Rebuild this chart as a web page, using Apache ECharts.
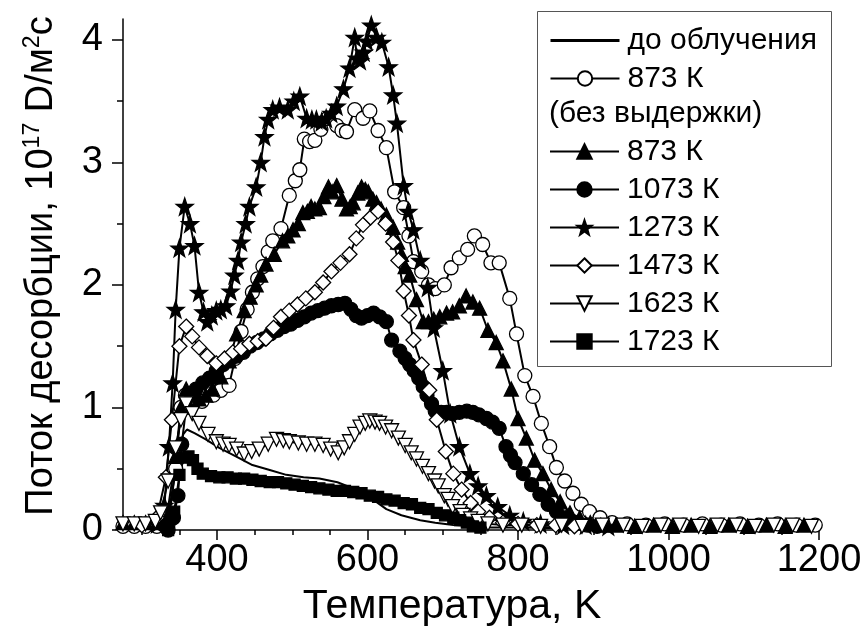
<!DOCTYPE html>
<html>
<head>
<meta charset="utf-8">
<script src="https://cdn.jsdelivr.net/npm/echarts@6/dist/echarts.min.js"></script>
<style>
  html, body { margin: 0; padding: 0; background: #fff; }
  #chart { width: 866px; height: 630px; }
</style>
</head>
<body>
<div id="chart"></div>
<script>
// ось X, K
const xMajorTicks = [400, 600, 800, 1000, 1200]
const xMinorTicks = [300, 350, 450, 500, 550, 650, 700, 750, 850, 900, 950, 1050, 1100, 1150]
// ось Y, 10^17 D/м²c
const yMajorTicks = [0, 1, 2, 3, 4]
const yMinorTicks = [0.5, 1.5, 2.5, 3.5]

// до облучения
const beforeIrr = [
  [275, 0.05], [300, 0.05], [320, 0.05], [335, 0.1], [345, 0.5], [355, 0.78], [360, 0.82], [370, 0.79],
  [385, 0.74], [403, 0.67], [425, 0.6], [447, 0.53], [470, 0.49], [492, 0.45], [515, 0.43], [536, 0.42],
  [560, 0.39], [581, 0.34], [595, 0.3], [607, 0.25], [625, 0.17], [645, 0.12], [670, 0.08], [690, 0.06],
  [714, 0.04], [740, 0.03], [760, 0.02], [800, 0.02], [900, 0.01], [1000, 0.01], [1100, 0.01], [1200, 0.01]
]

// 873 К (без выдержки)
const open873 = [
  [275, 0.03], [290, 0.03], [305, 0.03], [320, 0.03], [335, 0.05], [345, 0.5], [352, 1.0], [358, 1.1],
  [368, 1.08], [380, 1.05], [395, 1.1], [405, 1.14], [416, 1.18], [424, 1.4], [432, 1.62], [440, 1.8],
  [447, 1.94], [454, 2.05], [461, 2.15], [468, 2.27], [474, 2.36], [485, 2.46], [496, 2.73], [504, 2.85],
  [510, 2.94], [516, 3.19], [523, 3.17], [530, 3.18], [538, 3.27], [547, 3.36], [559, 3.3], [566, 3.26],
  [572, 3.25], [583, 3.43], [594, 3.36], [603, 3.42], [614, 3.26], [625, 3.12], [636, 2.76], [648, 2.63],
  [655, 2.4], [661, 2.19], [672, 2.11], [681, 2.0], [690, 1.97], [702, 2.0], [711, 2.14], [722, 2.22],
  [733, 2.29], [742, 2.4], [753, 2.33], [764, 2.18], [775, 2.18], [789, 1.89], [798, 1.6], [809, 1.26],
  [820, 1.09], [831, 0.87], [842, 0.68], [851, 0.51], [862, 0.4], [873, 0.3], [884, 0.21], [895, 0.15],
  [909, 0.1], [925, 0.06], [945, 0.05], [970, 0.04], [995, 0.05], [1020, 0.04], [1045, 0.05], [1070, 0.04],
  [1095, 0.05], [1120, 0.04], [1145, 0.05], [1170, 0.04], [1195, 0.04]
]

// 873 К
const fill873 = [
  [275, 0.06], [290, 0.06], [305, 0.06], [320, 0.06], [333, 0.1], [345, 0.6], [352, 1.0], [359, 1.15],
  [368, 1.1], [376, 1.07], [385, 1.1], [394, 1.15], [405, 1.25], [416, 1.38], [426, 1.6], [436, 1.79],
  [444, 1.9], [452, 2.0], [458, 2.08], [465, 2.17], [476, 2.25], [487, 2.36], [494, 2.4], [501, 2.45],
  [508, 2.5], [514, 2.59], [520, 2.6], [525, 2.64], [530, 2.62], [536, 2.63], [542, 2.72], [548, 2.8],
  [553, 2.76], [559, 2.81], [566, 2.7], [572, 2.62], [577, 2.64], [581, 2.67], [587, 2.75], [592, 2.8],
  [597, 2.78], [601, 2.76], [607, 2.7], [612, 2.67], [618, 2.62], [625, 2.57], [634, 2.47], [640, 2.35],
  [645, 2.25], [650, 2.15], [656, 2.08], [665, 1.88], [674, 1.7], [681, 1.7], [688, 1.72], [696, 1.74],
  [705, 1.77], [713, 1.78], [722, 1.83], [731, 1.91], [740, 1.86], [749, 1.81], [760, 1.63], [771, 1.53],
  [780, 1.38], [791, 1.15], [800, 0.91], [811, 0.75], [822, 0.57], [833, 0.46], [844, 0.33], [856, 0.23],
  [869, 0.14], [882, 0.1], [896, 0.06], [910, 0.04], [930, 0.04], [955, 0.03], [980, 0.04], [1005, 0.03],
  [1030, 0.04], [1055, 0.03], [1080, 0.04], [1105, 0.03], [1130, 0.04], [1155, 0.03], [1180, 0.04]
]

// 1073 К
const fill1073 = [
  [335, 0.0], [342, 0.1], [348, 0.28], [353, 0.7], [359, 1.0], [366, 1.1], [372, 1.15], [381, 1.2],
  [390, 1.24], [399, 1.3], [408, 1.35], [417, 1.39], [426, 1.42], [435, 1.45], [444, 1.5], [453, 1.53],
  [462, 1.56], [471, 1.6], [480, 1.63], [489, 1.66], [498, 1.68], [507, 1.71], [516, 1.74], [525, 1.77],
  [534, 1.79], [543, 1.81], [552, 1.83], [561, 1.84], [570, 1.85], [578, 1.8], [585, 1.75], [592, 1.73],
  [600, 1.75], [608, 1.77], [616, 1.74], [625, 1.7], [632, 1.55], [643, 1.46], [650, 1.4], [656, 1.35],
  [662, 1.3], [668, 1.24], [674, 1.17], [679, 1.1], [685, 1.03], [690, 0.97], [698, 0.96], [705, 0.96],
  [713, 0.95], [722, 0.96], [732, 0.97], [740, 0.96], [748, 0.94], [758, 0.91], [766, 0.88], [775, 0.83],
  [784, 0.68], [790, 0.61], [796, 0.55], [807, 0.46], [818, 0.37], [829, 0.29], [840, 0.21], [851, 0.15],
  [864, 0.1], [878, 0.055], [892, 0.04], [905, 0.03]
]

// 1273 К
const star1273 = [
  [320, 0.05], [330, 0.2], [336, 0.68], [341, 1.2], [345, 1.8], [350, 2.3], [357, 2.64], [364, 2.5],
  [370, 2.32], [376, 1.94], [382, 1.78], [387, 1.7], [393, 1.75], [399, 1.79], [405, 1.8], [412, 1.83],
  [418, 1.95], [423, 2.08], [428, 2.2], [432, 2.35], [438, 2.5], [443, 2.64], [452, 2.8], [458, 3.0],
  [463, 3.21], [468, 3.35], [474, 3.43], [483, 3.45], [494, 3.43], [502, 3.5], [510, 3.54], [519, 3.36],
  [526, 3.35], [532, 3.35], [539, 3.33], [545, 3.36], [552, 3.4], [559, 3.46], [568, 3.6], [576, 3.77],
  [583, 4.02], [586, 3.85], [590, 3.83], [595, 3.9], [599, 3.99], [605, 4.12], [612, 4.02], [619, 3.98],
  [628, 3.78], [634, 3.55], [639, 3.32], [648, 2.81], [654, 2.6], [661, 2.45], [670, 2.2], [680, 1.98],
  [688, 1.65], [700, 1.3], [710, 0.95], [722, 0.68], [736, 0.46], [747, 0.36], [758, 0.28], [773, 0.19],
  [789, 0.12], [807, 0.07], [830, 0.05], [860, 0.04], [890, 0.04], [920, 0.03]
]

// 1473 К
const diamond1473 = [
  [300, 0.04], [320, 0.1], [332, 0.43], [340, 0.9], [350, 1.5], [359, 1.66], [367, 1.58], [376, 1.49],
  [387, 1.42], [399, 1.36], [410, 1.4], [421, 1.45], [432, 1.48], [443, 1.52], [454, 1.54], [465, 1.56],
  [475, 1.65], [485, 1.74], [496, 1.79], [507, 1.84], [518, 1.89], [530, 1.94], [541, 2.02], [552, 2.11],
  [564, 2.18], [576, 2.25], [585, 2.38], [594, 2.49], [604, 2.55], [614, 2.6], [624, 2.5], [634, 2.35],
  [641, 2.2], [648, 1.95], [655, 1.75], [661, 1.55], [672, 1.35], [682, 1.14], [692, 0.9], [704, 0.64],
  [714, 0.46], [725, 0.33], [737, 0.22], [747, 0.15], [762, 0.1], [780, 0.06], [800, 0.05], [825, 0.04],
  [850, 0.04], [875, 0.03]
]

// 1623 К
const down1623 = [
  [275, 0.05], [290, 0.05], [305, 0.05], [318, 0.07], [325, 0.14], [335, 0.4], [345, 0.67], [352, 0.9],
  [359, 1.03], [367, 0.95], [376, 0.87], [388, 0.78], [399, 0.72], [408, 0.7], [416, 0.69], [426, 0.66],
  [436, 0.62], [446, 0.64], [456, 0.66], [468, 0.7], [479, 0.74], [488, 0.73], [496, 0.72], [508, 0.71],
  [519, 0.7], [530, 0.7], [541, 0.69], [551, 0.66], [561, 0.63], [569, 0.67], [576, 0.72], [583, 0.78],
  [590, 0.84], [597, 0.87], [603, 0.89], [610, 0.88], [616, 0.87], [624, 0.84], [632, 0.81], [641, 0.75],
  [650, 0.69], [658, 0.63], [665, 0.58], [673, 0.52], [681, 0.46], [689, 0.4], [694, 0.36], [702, 0.28],
  [707, 0.25], [713, 0.19], [723, 0.15], [727, 0.12], [737, 0.09], [747, 0.07], [760, 0.05], [780, 0.04],
  [805, 0.04], [830, 0.03], [858, 0.04], [885, 0.03], [912, 0.04], [940, 0.04], [965, 0.03], [990, 0.04],
  [1015, 0.04], [1040, 0.03], [1065, 0.04], [1090, 0.04], [1115, 0.03], [1140, 0.04], [1165, 0.04], [1190, 0.03]
]

// 1723 К
const square1723 = [
  [335, 0.0], [343, 0.15], [350, 0.45], [356, 0.59], [362, 0.6], [368, 0.57], [374, 0.5], [381, 0.46],
  [392, 0.44], [403, 0.43], [414, 0.43], [425, 0.42], [436, 0.42], [447, 0.41], [458, 0.4], [470, 0.39],
  [481, 0.39], [492, 0.38], [503, 0.37], [514, 0.36], [525, 0.35], [536, 0.34], [548, 0.33], [559, 0.32],
  [570, 0.32], [581, 0.31], [592, 0.3], [603, 0.28], [614, 0.27], [625, 0.25], [636, 0.24], [648, 0.22],
  [659, 0.21], [670, 0.18], [681, 0.17], [692, 0.14], [703, 0.12], [714, 0.1], [723, 0.08], [732, 0.06],
  [740, 0.03], [750, 0.02]
]

const FONT = "'Liberation Sans', Arial, sans-serif"
const STAR = 'path://M0,-10 L2.35,-3.24 L9.51,-3.09 L3.8,1.24 L5.88,8.09 L0,4 L-5.88,8.09 L-3.8,1.24 L-9.51,-3.09 L-2.35,-3.24 Z'

// общий вид линии с маркерами
const makeSeries = (name, data, symbol, size, fill, rotate) => ({
  name,
  type: 'line',
  data,
  symbol,
  symbolSize: size,
  symbolRotate: rotate || 0,
  showAllSymbol: true,
  lineStyle: { color: '#000', width: 2 },
  itemStyle: { color: fill, borderColor: '#000', borderWidth: 1.3 },
  emphasis: { disabled: true }
})

const chart = echarts.init(document.getElementById('chart'))

const legendCommon = {
  left: 549,
  orient: 'vertical',
  padding: 0,
  itemWidth: 69,
  itemHeight: 18,
  itemGap: 8,
  selectedMode: false,
  formatter: (name) => name.replace(' (без выдержки)', ''),
  textStyle: { fontFamily: FONT, fontSize: 30, lineHeight: 29, color: '#000', padding: [0, 0, 0, 3] }
}

const option = {
  animation: false,
  backgroundColor: '#fff',
  grid: { left: 123, right: 47, top: 19, bottom: 100 },
  legend: [
    Object.assign({}, legendCommon, {
      top: 25.5,
      data: [
        { name: 'до облучения', itemStyle: { opacity: 0 }, lineStyle: { width: 3 } },
        '873 К (без выдержки)'
      ]
    }),
    Object.assign({}, legendCommon, { top: 136.5, data: ['873 К', '1073 К', '1273 К', '1473 К', '1623 К', '1723 К'] })
  ],
  xAxis: [
    {
      type: 'value', min: 275, max: 1200, position: 'bottom',
      axisLine: { show: true, lineStyle: { color: '#000', width: 1.5 } },
      axisTick: { show: true, inside: false, length: 10, customValues: xMajorTicks, lineStyle: { color: '#000', width: 1.5 } },
      axisLabel: {
        customValues: xMajorTicks, margin: 12, color: '#000', fontFamily: FONT, fontSize: 38,
        formatter: (v) => String(v)
      },
      splitLine: { show: false }
    },
    {
      type: 'value', min: 275, max: 1200, position: 'bottom',
      axisLine: { show: false },
      axisTick: { show: true, inside: false, length: 5, customValues: xMinorTicks, lineStyle: { color: '#000', width: 1.5 } },
      axisLabel: { show: false },
      splitLine: { show: false }
    }
  ],
  yAxis: [
    {
      type: 'value', min: 0, max: 4.17, position: 'left',
      axisLine: { show: true, lineStyle: { color: '#000', width: 1.5 } },
      axisTick: { show: true, inside: false, length: 11, customValues: yMajorTicks, lineStyle: { color: '#000', width: 1.5 } },
      axisLabel: { customValues: yMajorTicks, margin: 20, color: '#000', fontFamily: FONT, fontSize: 38 },
      splitLine: { show: false }
    },
    {
      type: 'value', min: 0, max: 4.17, position: 'left',
      axisLine: { show: false },
      axisTick: { show: true, inside: false, length: 6, customValues: yMinorTicks, lineStyle: { color: '#000', width: 1.5 } },
      axisLabel: { show: false },
      splitLine: { show: false }
    }
  ],
  graphic: [
    {
      type: 'rect', left: 535, top: 9, z: 100,
      shape: { width: 294, height: 355 },
      style: { fill: 'none', stroke: '#555', lineWidth: 1 }
    },
    {
      type: 'text', x: 549, y: 114, z: 100,
      style: { text: '(без выдержки)', fontFamily: FONT, fontSize: 30, fill: '#000', verticalAlign: 'middle' }
    },
    {
      type: 'text', x: 452, y: 607, z: 100,
      style: { text: 'Температура, K', fontFamily: FONT, fontSize: 41, fill: '#000', align: 'center', verticalAlign: 'middle' }
    },
    {
      type: 'text', x: 41, y: 266, rotation: Math.PI / 2, z: 100,
      style: {
        text: '{a|Поток десорбции, 10}{s|17}{a| D/м}{s|2}{a|c}',
        align: 'center', verticalAlign: 'middle', fill: '#000',
        rich: {
          a: { fontFamily: FONT, fontSize: 38, lineHeight: 40, verticalAlign: 'bottom' },
          s: { fontFamily: FONT, fontSize: 23, lineHeight: 40, verticalAlign: 'top' }
        }
      }
    }
  ],
  series: [
    Object.assign(makeSeries('до облучения', beforeIrr, 'none', 0, '#000'), { showSymbol: false }),
    makeSeries('873 К (без выдержки)', open873, 'circle', 14, '#fff'),
    makeSeries('873 К', fill873, 'triangle', 14, '#000'),
    makeSeries('1073 К', fill1073, 'circle', 14, '#000'),
    makeSeries('1273 К', star1273, STAR, 17, '#000'),
    makeSeries('1473 К', diamond1473, 'diamond', 15, '#fff'),
    makeSeries('1623 К', down1623, 'triangle', 14, '#fff', 180),
    makeSeries('1723 К', square1723, 'rect', 11, '#000')
  ]
}

chart.setOption(option)
</script>
</body>
</html>
